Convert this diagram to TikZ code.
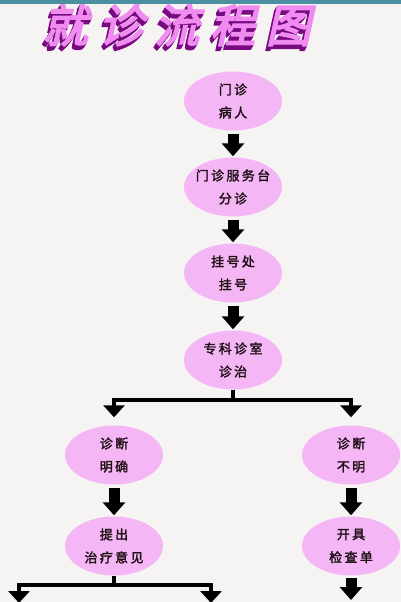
\documentclass[tikz,border=0pt]{standalone}
\usepackage{fontspec}
\usetikzlibrary{arrows.meta,shapes.geometric}
\newfontfamily\cjk[LetterSpace=18,FakeBold=2]{Noto Sans CJK SC}
\newfontfamily\titlecjk[FakeSlant=0.22,FakeBold=4,LetterSpace=24]{Noto Sans CJK SC}
\definecolor{bg}{RGB}{246,243,243}
\definecolor{bar}{RGB}{75,144,160}
\definecolor{ellfill}{RGB}{245,182,245}
\definecolor{txt}{RGB}{30,15,20}
\definecolor{titlepink}{RGB}{240,140,240}
\definecolor{titleshade}{RGB}{120,10,128}
\begin{document}
\begin{tikzpicture}[x=1pt,y=-1pt,
  stage/.style={ellipse, minimum width=98pt, minimum height=59pt, inner xsep=-14pt, inner ysep=0pt,
    fill=ellfill, text=txt, align=center, font=\cjk\fontsize{13}{23}\selectfont},
  blockarrow/.style={draw=black, line width=11pt, -{Triangle[width=22pt,length=13pt]}},
  branch/.style={draw=black, line width=3.5pt, -{Triangle[width=21pt,length=12pt]}},
  plainline/.style={draw=black, line width=3.5pt},
  titletext/.style={font=\titlecjk\fontsize{45}{45}\selectfont, inner sep=0pt}]
\fill[bg] (0,0) rectangle (401,602);
\useasboundingbox (0,0) rectangle (401,602);
% title with extruded shadow
\foreach \k in {4.5,3,1.5} {
  \node[titletext, text=titleshade] (tshadow\k) at ({177-0.6*\k},{25+\k}) {就诊流程图};
}
\node[titletext, text=titlepink] (title) at (177,25) {就诊流程图};
\fill[bar] (0,0) rectangle (401,4.5);
% stages
\node[stage] (n1) at (233,101) {门诊\\病人};
\node[stage] (n2) at (233,187) {门诊服务台\\分诊};
\node[stage] (n3) at (233,273) {挂号处\\挂号};
\node[stage] (n4) at (233,360) {专科诊室\\诊治};
\node[stage] (n5) at (114,455) {诊断\\明确};
\node[stage] (n6) at (351,455) {诊断\\不明};
\node[stage] (n7) at (114,546) {提出\\治疗意见};
\node[stage] (n8) at (351,546) {开具\\检查单};
% straight block arrows
\draw[blockarrow, shorten <=3.5pt, shorten >=1pt] (n1.south) -- (n2.north);
\draw[blockarrow, shorten <=3.5pt, shorten >=1pt] (n2.south) -- (n3.north);
\draw[blockarrow, shorten <=3.5pt, shorten >=1pt] (n3.south) -- (n4.north);
\draw[blockarrow, shorten <=3.5pt, shorten >=1pt] (n5.south) -- (n7.north);
\draw[blockarrow, shorten <=3.5pt, shorten >=1pt] (n6.south) -- (n8.north);
% branch after n4
\coordinate (j1) at (233,400);
\draw[plainline] (n4.south) -- (j1);
\draw[branch, shorten >=8pt] (j1) -| (n5.north);
\draw[branch, shorten >=8pt] (j1) -| (n6.north);
% branch after n7
\coordinate (j2) at (114,585);
\coordinate (o1) at (19,603);
\coordinate (o2) at (211,603);
\draw[plainline] (n7.south) -- (j2);
\draw[branch] (j2) -| (o1);
\draw[branch] (j2) -| (o2);
% arrow after n8
\coordinate (o3) at (351,600);
\draw[blockarrow, shorten <=2pt] (n8.south) -- (o3);
\end{tikzpicture}
\end{document}
